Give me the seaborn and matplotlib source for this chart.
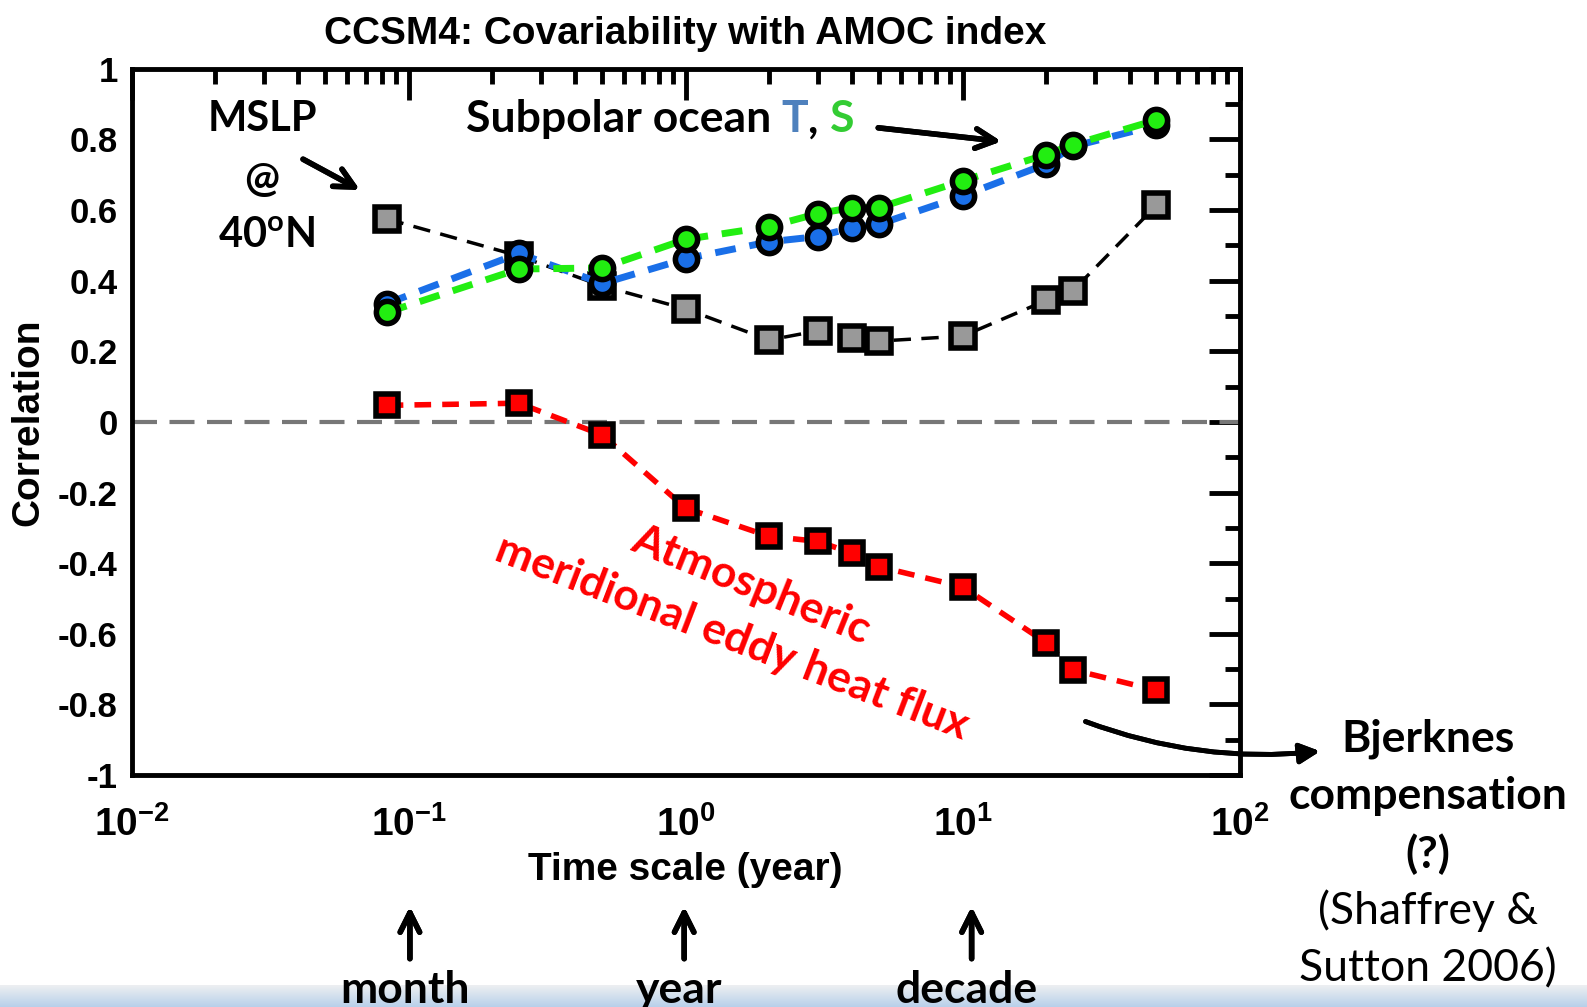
import numpy as np
import pandas as pd
import matplotlib.pyplot as plt
import seaborn as sns
from matplotlib.offsetbox import TextArea, HPacker, AnnotationBbox

# time scales (years) and correlations
escala = [1/12, 0.25, 0.5, 1, 2, 3, 4, 5, 10, 20, 25, 50]
mslp = [0.575, 0.47, 0.385, 0.32, 0.232, 0.258, 0.238, 0.229, 0.243, 0.344, 0.372, 0.613]
temp = [0.335, 0.477, 0.392, 0.462, 0.51, 0.525, 0.55, 0.56, 0.64, 0.73, 0.78, 0.84]
sal = [0.31, 0.433, 0.436, 0.517, 0.553, 0.59, 0.607, 0.607, 0.683, 0.757, 0.785, 0.855]
fluxo = [0.047, 0.053, -0.037, -0.244, -0.324, -0.338, -0.372, -0.41, -0.467, -0.625, -0.702, -0.76]

df = pd.DataFrame({'escala': escala, 'mslp': mslp, 'T': temp, 'S': sal, 'fluxo': fluxo})

sns.set_theme(style="white")
plt.rcParams['font.family'] = ['Liberation Sans', 'DejaVu Sans']
plt.rcParams['text.color'] = 'black'
plt.rcParams['axes.labelcolor'] = 'black'
plt.rcParams['mathtext.fontset'] = 'custom'
plt.rcParams['mathtext.rm'] = 'Liberation Sans:bold'
plt.rcParams['mathtext.bf'] = 'Lato:bold'

fig = plt.figure(figsize=(15.87, 10.07), dpi=100)

# faixa azul clara no rodapé (fundo do slide)
bg = fig.add_axes([0, 0, 1, 0.022], zorder=-5)
grad = np.linspace(0, 1, 50).reshape(-1, 1)
bg.imshow(grad, aspect='auto', cmap=sns.light_palette('#b8d0ea', as_cmap=True), origin='upper')
bg.axis('off')

ax = fig.add_axes([0.0829, 0.2303, 0.6983, 0.7014])

ax.axhline(0, color='#777777', lw=3, ls=(0, (6, 3)), zorder=1)

sns.lineplot(data=df, x='escala', y='mslp', ax=ax, color='black', lw=2.5,
             linestyle=(0, (5, 3)), marker='s', markersize=17, markerfacecolor='#999999',
             markeredgecolor='black', markeredgewidth=4, zorder=3)
sns.lineplot(data=df, x='escala', y='T', ax=ax, color='#1a6fe8', lw=5,
             linestyle=(0, (3, 2)), marker='o', markersize=16, markerfacecolor='#1a6fe8',
             markeredgecolor='black', markeredgewidth=4, zorder=4)
sns.lineplot(data=df, x='escala', y='S', ax=ax, color='#22ee11', lw=5,
             linestyle=(0, (3, 2)), marker='o', markersize=16, markerfacecolor='#22ee11',
             markeredgecolor='black', markeredgewidth=4, zorder=5)
sns.lineplot(data=df, x='escala', y='fluxo', ax=ax, color='#ff0000', lw=4,
             linestyle=(0, (3, 2)), marker='s', markersize=16, markerfacecolor='#ff0000',
             markeredgecolor='black', markeredgewidth=4, zorder=6)

ax.set_xscale('log')
ax.set_xlim(1e-2, 1e2)
ax.set_ylim(-1, 1)
ax.set_xticks([1e-2, 1e-1, 1, 10, 100])
ax.set_xticklabels([r'$10^{-2}$', r'$10^{-1}$', r'$10^{0}$', r'$10^{1}$', r'$10^{2}$'])
ax.set_yticks(np.arange(-1, 1.01, 0.2))
ax.set_yticks(np.arange(-0.9, 1, 0.2), minor=True)
ax.set_yticklabels(['-1', '-0.8', '-0.6', '-0.4', '-0.2', '0', '0.2', '0.4', '0.6', '0.8', '1'])
ax.tick_params(which='both', direction='in', top=True, right=True, width=3.5, labelsize=25, colors='black')
ax.tick_params(axis='x', which='major', labelsize=28)
ax.tick_params(which='major', length=22)
ax.tick_params(axis='y', which='major', pad=10)
ax.tick_params(axis='x', which='major', pad=22)
ax.tick_params(which='minor', length=11)
for lab in ax.get_yticklabels() + ax.get_xticklabels():
    lab.set_fontweight('bold')
for s in ax.spines.values():
    s.set_linewidth(3.5)
    s.set_color('black')

ax.set_title('CCSM4: Covariability with AMOC index', fontsize=28, pad=18, weight='bold')
ax.set_xlabel('Time scale (year)', fontsize=28, labelpad=6, weight='bold')
ax.set_ylabel('Correlation', fontsize=28, labelpad=8, weight='bold')

# anotações (fonte de slide)
fn = 'Lato'
W, H = 1568, 995


def fx(x):
    return x / W


def fy(y):
    return 1 - y / H


fig.text(fx(259), fy(118), 'MSLP', ha='center', va='center', fontsize=30, weight='bold', family=fn)
fig.text(fx(259), fy(178), '@', ha='center', va='center', fontsize=30, weight='bold', family=fn)
fig.text(fx(263), fy(233), r'40$^{\mathbf{o}}$N', ha='center', va='center', fontsize=30, weight='bold', family=fn)
fig.add_artist(plt.annotate('', xy=(fx(358), fy(189)), xytext=(fx(297), fy(156)), xycoords='figure fraction',
                            arrowprops=dict(arrowstyle='->', lw=4, color='black', mutation_scale=35)))

tp = dict(fontsize=32, weight='bold', family=fn)
partes = [TextArea('Subpolar ocean ', textprops=dict(color='black', **tp)),
          TextArea('T', textprops=dict(color='#4f81bd', **tp)),
          TextArea(', ', textprops=dict(color='black', **tp)),
          TextArea('S', textprops=dict(color='#33cc33', **tp))]
caixa = HPacker(children=partes, align='baseline', pad=0, sep=0)
ab = AnnotationBbox(caixa, (fx(652), fy(118)), xycoords='figure fraction', frameon=False, box_alignment=(0.5, 0.5))
fig.add_artist(ab)
fig.add_artist(plt.annotate('', xy=(fx(992), fy(140)), xytext=(fx(865), fy(126)), xycoords='figure fraction',
                            arrowprops=dict(arrowstyle='->', lw=4, color='black', mutation_scale=35)))

fig.text(fx(742), fy(578), 'Atmospheric', ha='center', va='center', fontsize=32, weight='bold',
         family=fn, color='#ff0000', rotation=-22, rotation_mode='anchor')
fig.text(fx(723), fy(630), 'meridional eddy heat flux', ha='center', va='center', fontsize=32, weight='bold',
         family=fn, color='#ff0000', rotation=-21, rotation_mode='anchor')

fig.add_artist(plt.annotate('', xy=(fx(1307), fy(742)), xytext=(fx(1070), fy(712)), xycoords='figure fraction',
                            arrowprops=dict(arrowstyle='-|>', lw=3.5, color='black', mutation_scale=30,
                                            connectionstyle='arc3,rad=0.12')))

fig.text(fx(1411), fy(730), 'Bjerknes', ha='center', va='center', fontsize=32, weight='bold', family=fn)
fig.text(fx(1411), fy(787), 'compensation', ha='center', va='center', fontsize=32, weight='bold', family=fn)
fig.text(fx(1411), fy(844), '(?)', ha='center', va='center', fontsize=32, weight='bold', family=fn)
fig.text(fx(1411), fy(900), '(Shaffrey &', ha='center', va='center', fontsize=32, family=fn)
fig.text(fx(1411), fy(957), 'Sutton 2006)', ha='center', va='center', fontsize=32, family=fn)

for xpos, rot in [(405, 'month'), (676, 'year'), (960, 'decade')]:
    fig.add_artist(plt.annotate('', xy=(fx(xpos), fy(893)), xytext=(fx(xpos), fy(950)), xycoords='figure fraction',
                                arrowprops=dict(arrowstyle='->', lw=4, color='black', mutation_scale=35)))
    fig.text(fx(xpos - 5), fy(978), rot, ha='center', va='center', fontsize=32, weight='bold', family=fn)

fig.savefig('out.png', dpi=100)
